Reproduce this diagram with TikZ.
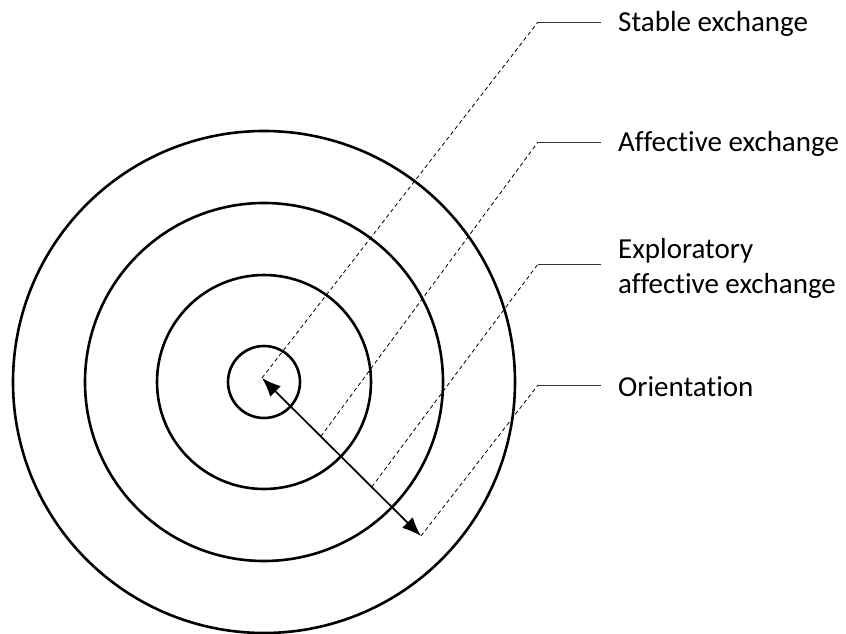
\documentclass[tikz,border=0pt]{standalone}
\usepackage{fontspec}
\setmainfont{Carlito}[Ligatures=NoCommon]
\usetikzlibrary{arrows.meta,calc}

\begin{document}
\begin{tikzpicture}[x=1pt, y=-1pt,
    ring/.style = {draw, circle, line width=2.6pt, inner sep=0pt},
    lead/.style = {dash pattern=on 4pt off 3pt, line width=0.8pt},
    tie/.style = {line width=0.9pt, black!80},
    tag/.style = {anchor=west, inner sep=0pt, align=left, font=\fontsize{29}{35}\selectfont}]
    \useasboundingbox (0,0) rectangle (846,634);
    \coordinate (c) at (264,382);
    \node[ring, minimum size=502pt] (r4) at (c) {};
    \node[ring, minimum size=358pt] (r3) at (c) {};
    \node[ring, minimum size=214pt] (r2) at (c) {};
    \node[ring, minimum size=72pt] (r1) at (c) {};
    % radius arrow
    \coordinate (a0) at (262,378);
    \coordinate (a1) at (421,536);
    \draw[{Latex[length=19pt, width=15pt]}-{Latex[length=19pt, width=15pt]}, line width=1.7pt] (a0) -- (a1);
    % labels
    \node[tag] (l1) at (618,24) {Stable exchange};
    \node[tag] (l2) at (618,144) {Affective exchange};
    \node[tag] (l3) at (618,268) {Exploratory\\affective exchange};
    \node[tag] (l4) at (618,387) {Orientation};
    \coordinate (k1) at (538,22);
    \coordinate (k2) at (538,142);
    \coordinate (k3) at (538,264);
    \coordinate (k4) at (538,385);
    \coordinate (e1) at (601,22);
    \coordinate (e2) at (601,142);
    \coordinate (e3) at (601,264);
    \coordinate (e4) at (601,385);
    \draw[lead] (a0) -- (k1);
    \draw[lead] ($(a0)!0.37!(a1)$) -- (k2);
    \draw[lead] ($(a0)!0.69!(a1)$) -- (k3);
    \draw[lead] (a1) -- (k4);
    \draw[tie] (k1) -- (e1);
    \draw[tie] (k2) -- (e2);
    \draw[tie] (k3) -- (e3);
    \draw[tie] (k4) -- (e4);
\end{tikzpicture}
\end{document}
